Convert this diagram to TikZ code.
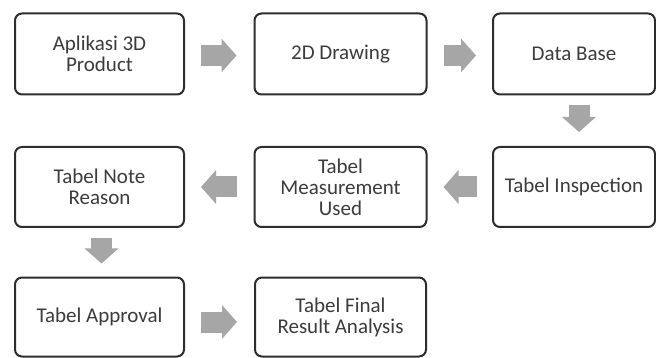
\documentclass[tikz,border=0pt]{standalone}
\usepackage{fontspec}
\setmainfont{Carlito}
\usepackage{xcolor}
\usetikzlibrary{arrows.meta,positioning,calc}
\definecolor{boxline}{RGB}{45,45,45}
\definecolor{boxtext}{RGB}{60,60,60}
\definecolor{arrowgray}{RGB}{166,166,166}

\begin{document}
\begin{tikzpicture}[x=1pt,y=-1pt,
  stage/.style={draw=boxline,line width=2pt,rounded corners=7pt,fill=white,
    text=boxtext,align=center,minimum height=81pt,
    font=\fontsize{21}{21}\selectfont},
  flow/.style={draw=arrowgray,line width=21pt,line cap=butt,
    -{Triangle[width=33pt,length=15pt]}}]
  \useasboundingbox (0,0) rectangle (656,358);
  \node[stage,minimum width=169pt] (apl) at (99.5,54) {Aplikasi 3D\\Product};
  \node[stage,minimum width=172pt] (draw) at (340.5,54) {2D Drawing};
  \node[stage,minimum width=162pt] (db) at (574,54) {Data Base};
  \node[stage,minimum width=162pt,minimum height=80pt] (insp) at (574,187) {Tabel Inspection};
  \node[stage,minimum width=172pt,minimum height=80pt] (meas) at (340.5,187) {Tabel\\Measurement\\Used};
  \node[stage,minimum width=169pt,minimum height=80pt] (note) at (99.5,187) {Tabel Note\\Reason};
  \node[stage,minimum width=169pt,minimum height=79pt] (app) at (99.5,317) {Tabel Approval};
  \node[stage,minimum width=171pt,minimum height=79pt] (fin) at (340.5,317) {Tabel Final\\Result Analysis};
  \draw[flow,shorten <=16pt,shorten >=17pt] ([yshift=-1.5pt]apl.east) -- ([yshift=-1.5pt]draw.west);
  \draw[flow,shorten <=16pt,shorten >=16pt] ([yshift=-1.5pt]draw.east) -- ([yshift=-1.5pt]db.west);
  \draw[flow,shorten <=10pt,shorten >=14pt] ([xshift=5pt]db.south) -- ([xshift=5pt]insp.north);
  \draw[flow,shorten <=15pt,shorten >=16pt] (insp.west) -- (meas.east);
  \draw[flow,shorten <=17pt,shorten >=16pt] (meas.west) -- (note.east);
  \draw[flow,shorten <=10pt,shorten >=13pt] ([xshift=2pt]note.south) -- ([xshift=2pt]app.north);
  \draw[flow,shorten <=16pt,shorten >=17pt] ([yshift=-5pt]app.east) -- ([yshift=-5pt]fin.west);
\end{tikzpicture}
\end{document}
